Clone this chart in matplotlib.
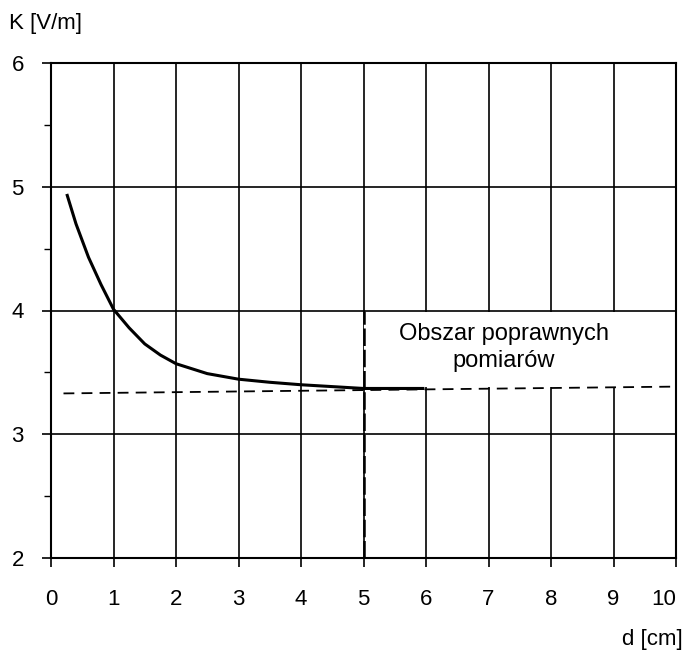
import numpy as np
import matplotlib
matplotlib.use("Agg")
import matplotlib.pyplot as plt
import matplotlib.transforms as mtransforms
from matplotlib.patches import Rectangle

plt.rcParams['font.family'] = ['Liberation Sans', 'DejaVu Sans']

# curve K(d)
d_cm = [0.26, 0.4, 0.6, 0.8, 1.0, 1.25, 1.5, 1.75, 2.0, 2.5, 3.0, 3.5, 4.0, 4.5, 5.0, 5.5, 5.95]
K_vm = [4.93, 4.70, 4.43, 4.21, 4.01, 3.86, 3.73, 3.64, 3.57, 3.49, 3.445, 3.42, 3.40, 3.385, 3.37, 3.37, 3.37]

# asymptote (dashed)
d_asym = [0.2, 10.0]
K_asym = [3.33, 3.385]

xticks = [0, 1, 2, 3, 4, 5, 6, 7, 8, 9, 10]
yticks = [2, 3, 4, 5, 6]
yminor = [2.5, 3.5, 4.5, 5.5]

box_x = [5, 10]
box_y = [3.385, 3.985]
box_text = "Obszar poprawnych\npomiarów"

fig = plt.figure(figsize=(6.85, 6.52), dpi=100)
ax = fig.add_axes([51/685, 94/652, 625/685, 495/652])

ax.set_xlim(0, 10)
ax.set_ylim(2, 6)
ax.set_xticks(xticks)
ax.set_yticks(yticks)
ax.set_yticks(yminor, minor=True)
ax.set_axisbelow(True)
ax.grid(True, which='major', color='black', linewidth=1.2)

for s in ax.spines.values():
    s.set_linewidth(1.5)
    s.set_color('black')

ax.tick_params(axis='both', which='major', direction='out', length=6.5, width=1.2,
               labelsize=16, colors='black')
ax.tick_params(axis='x', which='major', pad=16)
ax.tick_params(axis='y', which='major', pad=13)
ax.tick_params(axis='y', which='minor', direction='out', length=5, width=1.0)

# last x label sits a bit to the left of its tick in the original
fig.canvas.draw()
lbl = ax.get_xticklabels()[-1]
lbl.set_transform(lbl.get_transform() + mtransforms.ScaledTranslation(-9/72, 0, fig.dpi_scale_trans))

# white area of valid measurements
ax.add_patch(Rectangle((box_x[0], box_y[0]), box_x[1] - box_x[0], box_y[1] - box_y[0],
                       facecolor='white', edgecolor='none', zorder=1))
ax.text(7.25, 3.70, box_text, ha='center', va='center', fontsize=17,
        linespacing=1.3, zorder=3)

ax.plot([5, 5], [2, 4], color='black', linestyle=(0, (7, 1.5)), linewidth=1.8, zorder=2)

ax.plot(d_asym, K_asym, color='black', linestyle=(0, (6, 4)), linewidth=1.3, zorder=2)
ax.plot(d_cm, K_vm, color='black', linewidth=2.2, zorder=3)

fig.text(9/685, 1 - 23/652, "K [V/m]", ha='left', va='center', fontsize=16)
fig.text(683/685, 1 - 640/652, "d [cm]", ha='right', va='center', fontsize=16)

fig.savefig("out.png", dpi=100, facecolor='white')
